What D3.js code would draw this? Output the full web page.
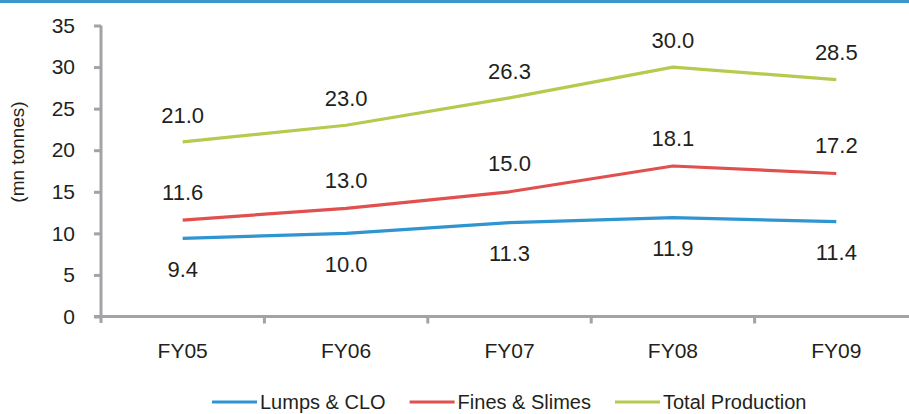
<!DOCTYPE html>
<html>
<head>
<meta charset="utf-8">
<script src="https://cdn.jsdelivr.net/npm/d3@7"></script>
<style>
  html, body { margin: 0; padding: 0; background: #fff; }
  svg { display: block; }
  text { font-family: "Liberation Sans", Arial, sans-serif; fill: #231f20; }
</style>
</head>
<body>
<svg id="chart" width="909" height="414"></svg>
<script>
// Iron ore production by product type (mn tonnes)
const years = ["FY05", "FY06", "FY07", "FY08", "FY09"];
const lumpsClo = [9.4, 10.0, 11.3, 11.9, 11.4];
const finesSlimes = [11.6, 13.0, 15.0, 18.1, 17.2];
const totalProduction = [21.0, 23.0, 26.3, 30.0, 28.5];
const yTicks = [0, 5, 10, 15, 20, 25, 30, 35];

const series = [
  { name: "Lumps & CLO", values: lumpsClo, color: "#2f95d1", labelDy: 31 },
  { name: "Fines & Slimes", values: finesSlimes, color: "#e0504e", labelDy: -28 },
  { name: "Total Production", values: totalProduction, color: "#b6ca4f", labelDy: -27 }
];

const svg = d3.select("#chart");
const axisColor = "#a3a3a7";

// top rule
svg.append("rect").attr("x", 0).attr("y", 0).attr("width", 909).attr("height", 3).attr("fill", "#3a97c9");

const x = d3.scaleBand().domain(years).range([101, 918]);
const y = d3.scaleLinear().domain([0, 35]).range([316.5, 25.5]);

// y axis
const yAxis = svg.append("g").attr("transform", "translate(101,0)")
  .call(d3.axisLeft(y).tickValues(yTicks).tickSize(7).tickPadding(19).tickSizeOuter(0));
yAxis.select(".domain").attr("stroke", axisColor).attr("stroke-width", 3)
  .attr("d", `M0,${y(35)}V323`);
yAxis.selectAll(".tick line").attr("stroke", axisColor).attr("stroke-width", 3);
yAxis.selectAll(".tick text").attr("font-size", 21).attr("fill", "#231f20")
  .attr("font-family", "'Liberation Sans', Arial, sans-serif");

// x axis
const xAxis = svg.append("g").attr("transform", `translate(0,${y(0)})`)
  .call(d3.axisBottom(x).tickSize(0).tickPadding(27).tickSizeOuter(0));
xAxis.select(".domain").attr("stroke", axisColor).attr("stroke-width", 3)
  .attr("d", "M94,0H909");
xAxis.selectAll(".tick text").attr("font-size", 21).attr("fill", "#231f20")
  .attr("font-family", "'Liberation Sans', Arial, sans-serif");
// category boundary ticks
xAxis.selectAll(".bound").data(years.slice(1)).join("line")
  .attr("class", "bound")
  .attr("x1", d => x(d)).attr("x2", d => x(d))
  .attr("y1", 0).attr("y2", 7)
  .attr("stroke", axisColor).attr("stroke-width", 3);

// y axis title
svg.append("text")
  .attr("transform", "translate(24,152) rotate(-90)")
  .attr("text-anchor", "middle")
  .attr("font-size", 19)
  .text("(mn tonnes)");

// lines
const line = d3.line()
  .x((d, i) => x(years[i]) + x.bandwidth() / 2)
  .y(d => y(d));

svg.append("g").selectAll("path").data(series).join("path")
  .attr("d", s => line(s.values))
  .attr("fill", "none")
  .attr("stroke", s => s.color)
  .attr("stroke-width", 3.2)
  .attr("stroke-linejoin", "round");

// value labels
series.forEach(s => {
  svg.append("g").selectAll("text").data(s.values).join("text")
    .attr("x", (d, i) => x(years[i]) + x.bandwidth() / 2)
    .attr("y", d => y(d) + s.labelDy)
    .attr("dy", "0.35em")
    .attr("text-anchor", "middle")
    .attr("font-size", 22)
    .text(d => d3.format(".1f")(d));
});

// legend
const legend = svg.append("g").attr("transform", "translate(212,402)");
let lx = 0;
series.forEach(s => {
  const g = legend.append("g").attr("transform", `translate(${lx},0)`);
  g.append("line").attr("x1", 0).attr("x2", 45).attr("y1", 0).attr("y2", 0)
    .attr("stroke", s.color).attr("stroke-width", 3.2);
  const t = g.append("text").attr("x", 48).attr("y", 0).attr("dy", "0.36em")
    .attr("font-size", 20).text(s.name);
  lx += 48 + t.node().getComputedTextLength() + 24;
});
</script>
</body>
</html>
